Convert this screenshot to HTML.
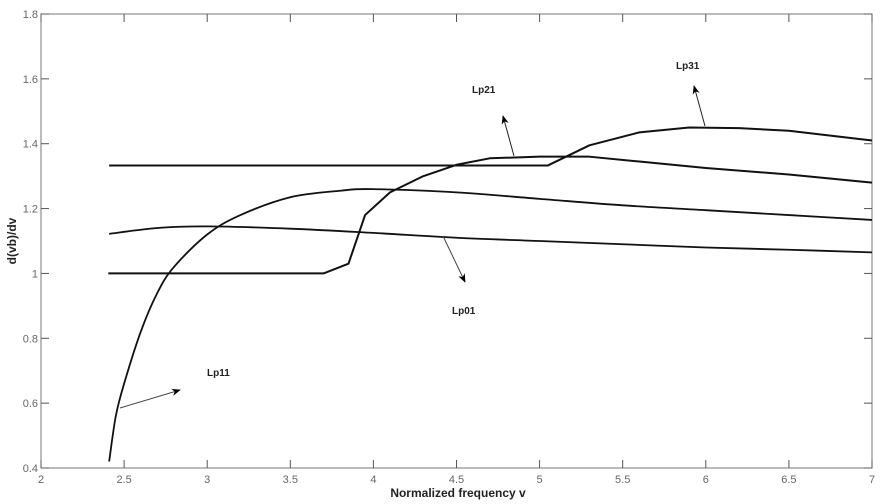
<!DOCTYPE html>
<html><head><meta charset="utf-8"><style>
body{margin:0;background:#fff;}
svg{display:block;font-family:"Liberation Sans",Arial,sans-serif;}
.tick{font-size:11px;fill:#666;}
</style></head><body>
<svg id="chart" width="883" height="504" viewBox="0 0 883 504">
<defs><marker id="ah" viewBox="0 0 10 10" refX="9" refY="5" markerWidth="9" markerHeight="9" orient="auto"><path d="M0,1 L10,5 L0,9 L3,5 z" fill="#000"/></marker></defs>
<g id="axes"></g><g id="series"></g>
<g id="notes" font-size="10" font-weight="bold" fill="#222">
<text x="472" y="93">Lp21</text>
<text x="676" y="69">Lp31</text>
<text x="452" y="314">Lp01</text>
<text x="207" y="376">Lp11</text>
<line x1="514" y1="156" x2="503" y2="116" stroke="#222" marker-end="url(#ah)"/>
<line x1="705" y1="126" x2="694" y2="86" stroke="#222" marker-end="url(#ah)"/>
<line x1="443" y1="236" x2="465" y2="282" stroke="#444" marker-end="url(#ah)"/>
<line x1="120" y1="408" x2="180" y2="390" stroke="#444" marker-end="url(#ah)"/>
</g>
<text x="458" y="497" text-anchor="middle" font-size="12" font-weight="bold" fill="#222">Normalized frequency v</text>
<text transform="translate(16,241) rotate(-90)" text-anchor="middle" font-size="12" font-weight="bold" fill="#222">d(vb)/dv</text>
</svg>
<script>
const xTicks=[2,2.5,3,3.5,4,4.5,5,5.5,6,6.5,7];
const xTickLabels=["2","2.5","3","3.5","4","4.5","5","5.5","6","6.5","7"];
const yTicks=[0.4,0.6,0.8,1,1.2,1.4,1.6,1.8];
const yTickLabels=["0.4","0.6","0.8","1","1.2","1.4","1.6","1.8"];
const lp01X=[2.405,3.7,3.85,3.95,4.1,4.3,4.5,4.7,5.0,5.3,5.6,6.0,6.5,7.0];
const lp01Y=[1.0,1.0,1.03,1.18,1.25,1.30,1.335,1.355,1.36,1.36,1.345,1.325,1.305,1.28];
const lp11X=[2.41,2.45,2.5,2.6,2.7,2.8,3.0,3.2,3.5,3.8,4.0,4.5,5.0,5.5,6.0,6.5,7.0];
const lp11Y=[0.42,0.56,0.66,0.82,0.94,1.02,1.12,1.18,1.235,1.255,1.26,1.25,1.23,1.21,1.195,1.18,1.165];
const lp21X=[2.41,5.05,5.3,5.6,5.9,6.2,6.5,7.0];
const lp21Y=[1.333,1.333,1.395,1.435,1.45,1.448,1.44,1.41];
const lp31X=[2.41,2.7,3.0,3.5,4.0,4.5,5.0,5.5,6.0,6.5,7.0];
const lp31Y=[1.122,1.14,1.145,1.138,1.125,1.11,1.10,1.09,1.08,1.073,1.065];
const L=41,R=872,T=14,B=468;
const sx=v=>L+(v-2)/5*(R-L);
const sy=v=>B-(v-0.4)/1.4*(B-T);
const NS="http://www.w3.org/2000/svg";
function mk(tag,attrs,parent){const e=document.createElementNS(NS,tag);for(const k in attrs)e.setAttribute(k,attrs[k]);parent.appendChild(e);return e;}
const ax=document.getElementById('axes');
const frame=mk('rect',{x:L,y:T,width:R-L,height:B-T,fill:'none',stroke:'#777','stroke-width':1},ax);


xTicks.forEach((v,i)=>{
 const x=sx(v);
 mk('line',{x1:x,y1:B,x2:x,y2:B-8,stroke:'#555'},ax);
 mk('line',{x1:x,y1:T,x2:x,y2:T+8,stroke:'#555'},ax);
 const t=mk('text',{x:x,y:B+15,'text-anchor':'middle',class:'tick'},ax);
 t.textContent=xTickLabels[i];
 
 
});
yTicks.forEach((v,i)=>{
 const y=sy(v);
 mk('line',{x1:L,y1:y,x2:L+8,y2:y,stroke:'#555'},ax);
 mk('line',{x1:R,y1:y,x2:R-8,y2:y,stroke:'#555'},ax);
 const t=mk('text',{x:L-3,y:y+4,'text-anchor':'end',class:'tick'},ax);
 t.textContent=yTickLabels[i];
 
 
});
const sg=document.getElementById('series');
function smoothPath(xs,ys){
 const p=xs.map((x,i)=>[sx(x),sy(ys[i])]);
 let d='M'+p[0][0]+','+p[0][1];
 for(let i=0;i<p.length-1;i++){
  const p0=p[i-1]||p[i],p1=p[i],p2=p[i+1],p3=p[i+2]||p2;
  const c1=[p1[0]+(p2[0]-p0[0])/6,p1[1]+(p2[1]-p0[1])/6];
  const c2=[p2[0]-(p3[0]-p1[0])/6,p2[1]-(p3[1]-p1[1])/6];
  d+=' C'+c1+' '+c2+' '+p2;
 }
 return d;
}
function line(xs,ys,name,w,smooth){
 let p;
 if(smooth){p=mk('path',{d:smoothPath(xs,ys),fill:'none',stroke:'#111','stroke-width':w},sg);}
 else{p=mk('polyline',{points:xs.map((x,i)=>sx(x)+','+sy(ys[i])).join(' '),fill:'none',stroke:'#111','stroke-width':w,'stroke-linejoin':'round'},sg);}
 
 
}
line(lp01X,lp01Y,'series-lp01',2,false);
line(lp11X,lp11Y,'series-lp11',1.8,true);
line(lp21X,lp21Y,'series-lp21',2,false);
line(lp31X,lp31Y,'series-lp31',1.8,true);
</script>
</body></html>
